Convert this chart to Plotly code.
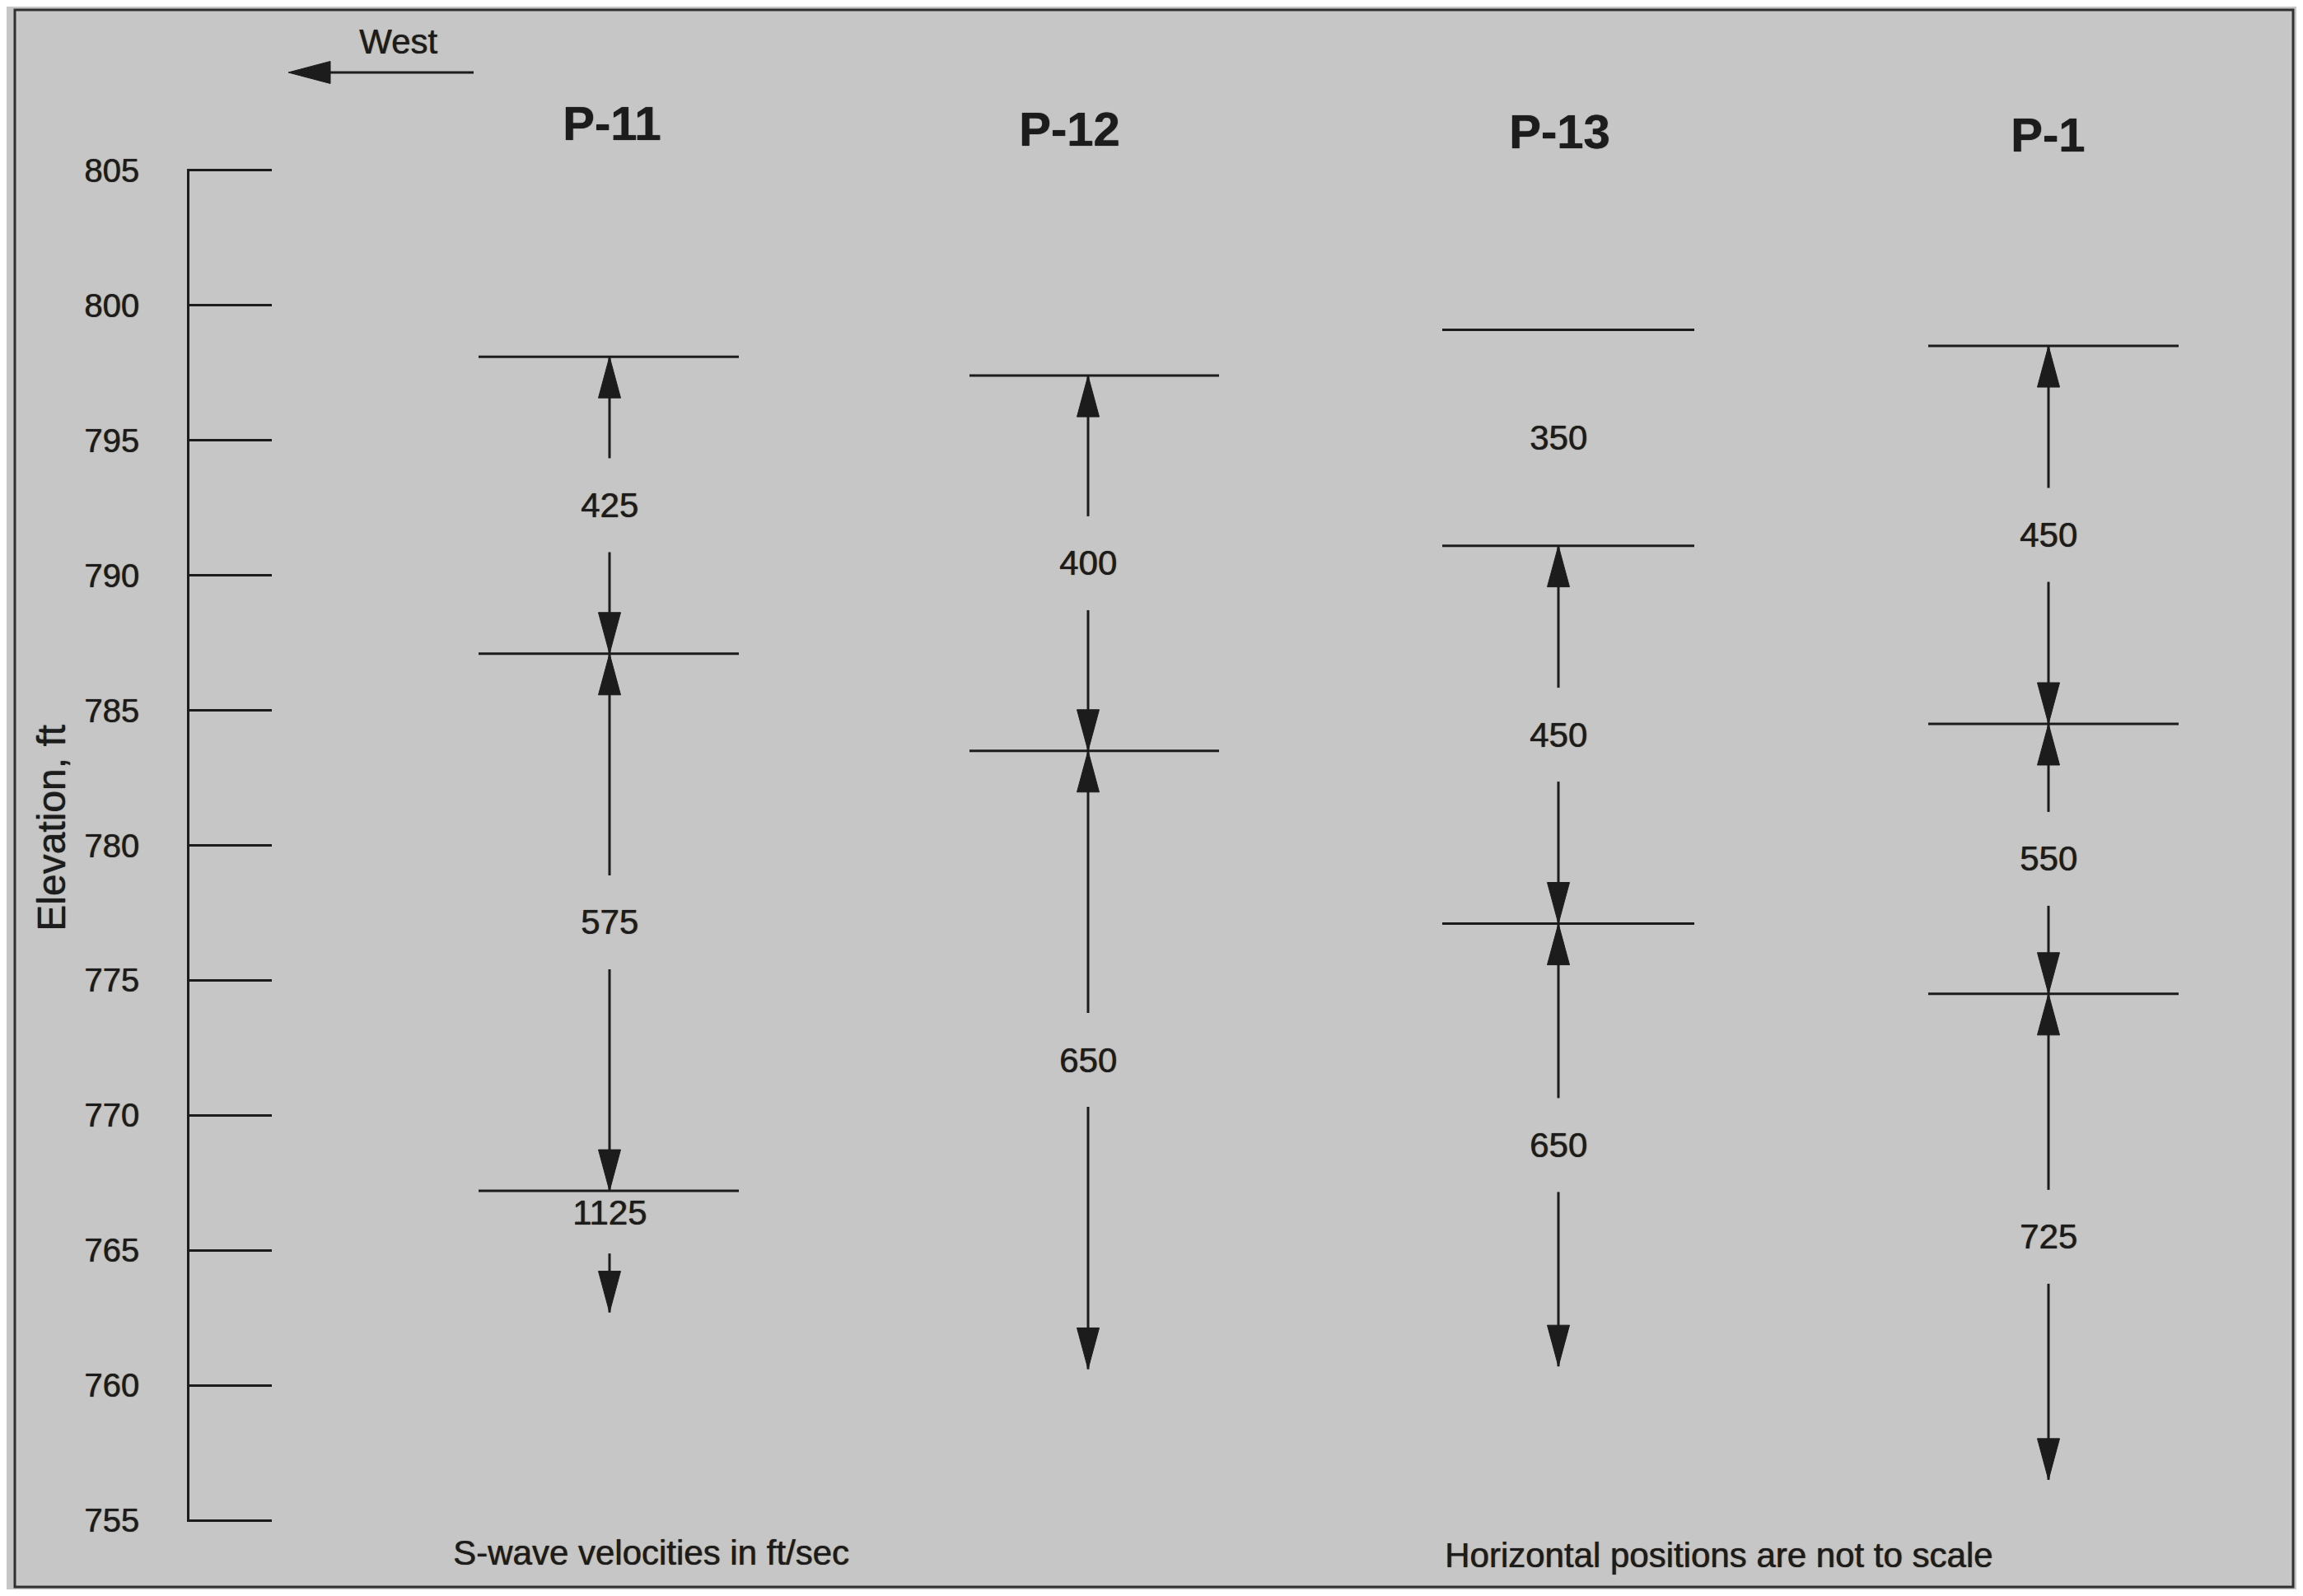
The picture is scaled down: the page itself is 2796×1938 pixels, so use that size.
import plotly.graph_objects as go

# ---------------- data ----------------
columns = ["P-11", "P-12", "P-13", "P-1"]

# layer boundary elevations (ft), top to bottom, per boring
p11_boundaries = [798.1, 787.1, 767.2]
p12_boundaries = [797.4, 783.5]
p13_boundaries = [799.1, 791.1, 777.1]
p1_boundaries = [798.5, 784.5, 774.5]

# elevation where each profile's lowest arrow ends (ft)
profile_bottoms = [762.7, 760.6, 760.7, 756.5]

# S-wave velocities (ft/sec), one per layer, top to bottom
p11_velocities = [425, 575, 1125]
p12_velocities = [400, 650]
p13_velocities = [350, 450, 650]
p1_velocities = [450, 550, 725]

elevation_ticks = [755, 760, 765, 770, 775, 780, 785, 790, 795, 800, 805]

boundaries = [p11_boundaries, p12_boundaries, p13_boundaries, p1_boundaries]
velocities = [p11_velocities, p12_velocities, p13_velocities, p1_velocities]

# ---------------- layout / style ----------------
OFF = 8                         # page body margin of the html page
FIG_W, FIG_H = 2796 - 2 * OFF, 1938 - 2 * OFF
# plot area in page pixels
PLOT_L, PLOT_T, PLOT_B = 230, 207, 1846
PLOT_R = OFF + FIG_W
Y_MIN, Y_MAX = 755, 805
PX_PER_FT = (PLOT_B - PLOT_T) / (Y_MAX - Y_MIN)
FT_PER_PX = 1 / PX_PER_FT
PADFT = 0.06                    # tiny range padding so edge ticks are drawn
R_MIN, R_MAX = Y_MIN - PADFT, Y_MAX + PADFT
AREA_T = PLOT_T - PADFT * PX_PER_FT
AREA_B = PLOT_B + PADFT * PX_PER_FT

BG = "#c6c6c6"
INK = "#1c1c1c"
FONT = "Liberation Sans, Arial, Helvetica, sans-serif"
SHADOW = "0.6px 0 1px #1c1c1c"

col_x = [740, 1321, 1892, 2487]                       # horizontal positions (not to scale)
line_extent = [(581, 897), (1177, 1480), (1751, 2057), (2341, 2645)]
title_pos = [(742, 150), (1298, 157), (1893, 160), (2486, 164)]

HEAD_LEN = 50 * FT_PER_PX      # arrowhead length in ft
HEAD_HALF = 13.5               # arrowhead half-width in px
GAP = 57 * FT_PER_PX           # half gap around velocity label
LW = 3

NO_ARROWS = {(2, 0)}           # P-13 top layer: label only
LABEL_UNDER_TOP = {(0, 2)}     # P-11 lowest layer: label just under boundary


def paper_y(py):
    return (AREA_B - py) / (AREA_B - AREA_T)


def paper_x(px):
    return (px - PLOT_L) / (PLOT_R - PLOT_L)


shapes = []
annotations = []


def vline(x, y0, y1):
    shapes.append(dict(type="line", xref="x", yref="y", x0=x, x1=x, y0=y0, y1=y1,
                       line=dict(color=INK, width=LW)))


def head(x, tip, up):
    base = tip - HEAD_LEN if up else tip + HEAD_LEN
    shapes.append(dict(type="path", xref="x", yref="y",
                       path=f"M {x},{tip} L {x - HEAD_HALF},{base} L {x + HEAD_HALF},{base} Z",
                       fillcolor=INK, line=dict(color=INK, width=1)))


def label(x, y, text, size, xref="x", yref="y", angle=0):
    annotations.append(dict(x=x, y=y, xref=xref, yref=yref, text=text, textangle=angle,
                            showarrow=False, xanchor="center", yanchor="middle",
                            font=dict(size=size, color=INK, family=FONT, shadow=SHADOW)))


for ci, name in enumerate(columns):
    xc = col_x[ci]
    x0, x1 = line_extent[ci]
    bnds = boundaries[ci]
    for b in bnds:
        shapes.append(dict(type="line", xref="x", yref="y", x0=x0, x1=x1, y0=b, y1=b,
                           line=dict(color=INK, width=LW)))
    edges = bnds + [profile_bottoms[ci]]
    for li, v in enumerate(velocities[ci]):
        top, bot = edges[li], edges[li + 1]
        if (ci, li) in NO_ARROWS:
            mid = (top + bot) / 2
        elif (ci, li) in LABEL_UNDER_TOP:
            mid = top - 26 * FT_PER_PX
            start = top - 76 * FT_PER_PX
            vline(xc, start, bot)
            head(xc, bot, up=False)
        else:
            mid = (top + bot) / 2
            vline(xc, top, mid + GAP)
            vline(xc, mid - GAP, bot)
            head(xc, top, up=True)
            head(xc, bot, up=False)
        label(xc, mid, str(v), 42)
    tx, ty = title_pos[ci]
    label(tx, paper_y(ty), f"<b>{name}</b>", 58, yref="paper")

# axis title
label(paper_x(63), paper_y(1006), "Elevation, ft", 48, xref="paper", yref="paper", angle=-90)
# West marker
label(paper_x(483), paper_y(51), "West", 42, xref="paper", yref="paper")
shapes.append(dict(type="line", xref="paper", yref="paper",
                   x0=paper_x(395), x1=paper_x(575), y0=paper_y(88), y1=paper_y(88),
                   line=dict(color=INK, width=LW)))
shapes.append(dict(type="path", xref="paper", yref="paper",
                   path=(f"M {paper_x(350)},{paper_y(88)} L {paper_x(401)},{paper_y(74.5)} "
                         f"L {paper_x(401)},{paper_y(101.5)} Z"),
                   fillcolor=INK, line=dict(color=INK, width=1)))
# footnotes
label(paper_x(790), paper_y(1885), "S-wave velocities in ft/sec", 42, xref="paper", yref="paper")
label(paper_x(2086), paper_y(1888), "Horizontal positions are not to scale", 42,
      xref="paper", yref="paper")
# outer frame
shapes.append(dict(type="rect", xref="paper", yref="paper",
                   x0=paper_x(18), x1=paper_x(2784), y0=paper_y(1927), y1=paper_y(12),
                   line=dict(color="#303030", width=3), fillcolor="rgba(0,0,0,0)", layer="below"))

fig = go.Figure()
fig.add_trace(go.Scatter(x=[None], y=[None], mode="markers", showlegend=False, hoverinfo="skip"))

fig.update_layout(
    width=FIG_W, height=FIG_H,
    margin=dict(l=PLOT_L - OFF, r=0, t=AREA_T - OFF, b=OFF + FIG_H - AREA_B, pad=0),
    paper_bgcolor=BG, plot_bgcolor=BG,
    showlegend=False,
    shapes=shapes, annotations=annotations,
    xaxis=dict(range=[PLOT_L, PLOT_R], visible=False, fixedrange=True),
    yaxis=dict(range=[R_MIN, R_MAX], tickmode="array", tickvals=elevation_ticks,
               ticktext=[str(t) for t in elevation_ticks],
               showline=True, linecolor=INK, linewidth=LW, mirror=False,
               ticks="inside", ticklen=100, tickwidth=LW, tickcolor=INK,
               ticklabelstandoff=50,
               tickfont=dict(size=40, color=INK, family=FONT, shadow=SHADOW),
               showgrid=False, zeroline=False, automargin=False, fixedrange=True),
)

fig.write_html("out.html")
